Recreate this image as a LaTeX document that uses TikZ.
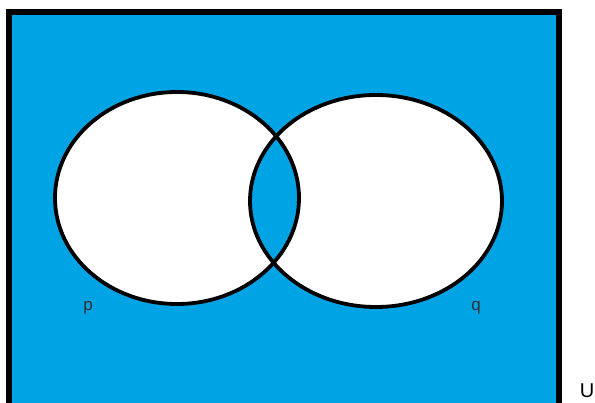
\documentclass[tikz,border=0pt]{standalone}
\usepackage{fontspec}
\setmainfont{Liberation Sans}
\definecolor{universo}{HTML}{00A3E4}
\begin{document}
\begin{tikzpicture}[x=1pt, y=-1pt,
	conjunto/.style={draw=black, line width=3.8pt},
	rotulo/.style={inner sep=0pt, anchor=base, text=black!80, font=\fontsize{17}{17}\selectfont}]
\useasboundingbox (0,0) rectangle (595,403);

% Universo
\filldraw[fill=universo, line width=6pt] (9,12.5) rectangle (559,430);

% Conjuntos p y q
\fill[white] (177,198) ellipse [x radius=122pt, y radius=106pt];
\fill[white] (376,201) ellipse [x radius=126pt, y radius=106pt];
\begin{scope}
	\clip (177,198) ellipse [x radius=122pt, y radius=106pt];
	\fill[universo] (376,201) ellipse [x radius=126pt, y radius=106pt];
\end{scope}
\draw[conjunto] (177,198) ellipse [x radius=122pt, y radius=106pt];
\draw[conjunto] (376,201) ellipse [x radius=126pt, y radius=106pt];

% Rotulos
\node[rotulo] (p) at (88,311) {p};
\node[rotulo] (q) at (476,311) {q};
\node[rotulo, text=black, font=\fontsize{20}{20}\selectfont] (U) at (587,398) {U};
\end{tikzpicture}
\end{document}
